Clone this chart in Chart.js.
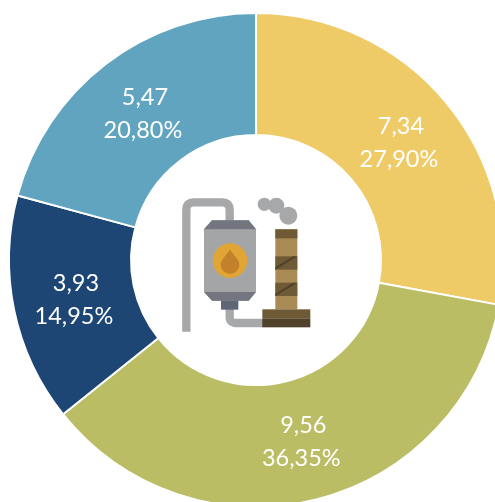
<!DOCTYPE html>
<html>
<head>
<meta charset="utf-8">
<style>
  html, body { margin: 0; padding: 0; background: #fff; overflow: hidden; width: 495px; height: 502px; }
  #wrap { position: relative; top: 4px; width: 512px; height: 512px; }
  #icon { position: absolute; left: 160px; top: 166px; width: 170px; height: 170px; filter: blur(0.4px); }
</style>
<script src="https://cdn.jsdelivr.net/npm/chart.js@4"></script>
</head>
<body>
<div id="wrap">
  <canvas id="chart" width="512" height="512"></canvas>
  <svg id="icon" viewBox="0 0 510 510">
    <!-- pipes -->
    <path d="M79 485V120Q79 97 102 97H186Q209 97 209 120V160" fill="none" stroke="#a7a8a9" stroke-width="25"/>
    <path d="M209 410V440Q209 459 228 459H310" fill="none" stroke="#a7a8a9" stroke-width="25"/>
    <!-- smoke -->
    <circle cx="313" cy="103" r="20" fill="#a7a8a9"/>
    <circle cx="349" cy="107" r="24" fill="#a7a8a9"/>
    <circle cx="385" cy="137" r="27" fill="#a7a8a9"/>
    <!-- tank -->
    <path d="M132 178L156 151H266L288 178V366L266 392H156L132 366Z" fill="#a4a5a7"/>
    <path d="M132 178L156 151H266L288 178Z" fill="#737681"/>
    <path d="M132 366H288L266 392H156Z" fill="#737681"/>
    <rect x="183" y="392" width="52" height="27" fill="#5f6678"/>
    <circle cx="210" cy="272" r="52" fill="#e0a534"/>
    <path d="M210 238C222 258 238 270 238 284A28 28 0 0 1 182 284C182 270 198 258 210 238Z" fill="#c4812c"/>
    <!-- chimney -->
    <rect x="346" y="178" width="66" height="240" fill="#a98c55"/>
    <rect x="346" y="178" width="66" height="27" fill="#6f5a36"/>
    <rect x="346" y="259" width="66" height="40" fill="#6f5a36"/>
    <rect x="346" y="338" width="66" height="40" fill="#6f5a36"/>
    <path d="M346 292L400 259H412L346 299Z" fill="#4f412a"/>
    <path d="M346 371L400 338H412L346 378Z" fill="#4f412a"/>
    <rect x="307" y="418" width="144" height="27" fill="#6f5a36"/>
    <rect x="307" y="445" width="144" height="27" fill="#4f412a"/>
  </svg>
</div>
<script>
// Values
const categories = ['A', 'B', 'C', 'D'];
const values = [7.34, 9.56, 3.93, 5.47];
const valueLabels = ['7,34', '9,56', '3,93', '5,47'];
const shareLabels = ['27,90%', '36,35%', '14,95%', '20,80%'];
const colors = ['#efcb68', '#bbbd64', '#1d4674', '#61a4c0'];

// Two-line white label in the middle of each slice
const sliceLabels = {
  id: 'sliceLabels',
  afterDatasetsDraw(chart) {
    const ctx = chart.ctx;
    ctx.save();
    ctx.fillStyle = '#ffffff';
    ctx.font = '23.5px Lato, "Open Sans", sans-serif';
    ctx.textAlign = 'center';
    ctx.textBaseline = 'middle';
    chart.getDatasetMeta(0).data.forEach((arc, i) => {
      const pos = arc.getCenterPoint();
      ctx.fillText(valueLabels[i], pos.x + 2, pos.y - 15);
      ctx.fillText(shareLabels[i], pos.x, pos.y + 18.5);
    });
    ctx.restore();
  }
};

new Chart(document.getElementById('chart'), {
  type: 'doughnut',
  data: {
    labels: categories,
    datasets: [{
      data: values,
      backgroundColor: colors,
      borderColor: '#ffffff',
      borderWidth: 2,
      borderAlign: 'center'
    }]
  },
  options: {
    responsive: false,
    animation: false,
    cutout: '50.6%',
    layout: { padding: 8 },
    plugins: { legend: { display: false }, tooltip: { enabled: false } }
  },
  plugins: [sliceLabels]
});
</script>
</body>
</html>
